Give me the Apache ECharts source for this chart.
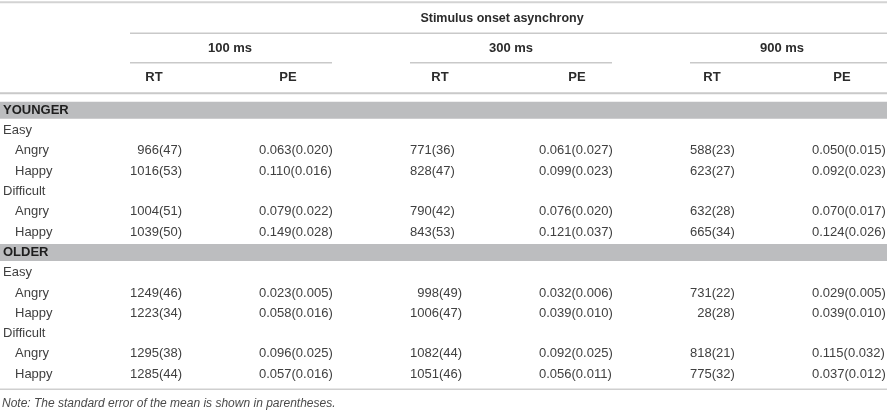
<!DOCTYPE html>
<html>
<head>
<meta charset="utf-8">
<script src="https://cdn.jsdelivr.net/npm/echarts@6/dist/echarts.min.js"></script>
<style>
    html, body { margin: 0; padding: 0; background: #fff; }
    #chart { width: 887px; height: 413px; }
</style>
</head>
<body>
<div id="chart"></div>
<script>
const soaTitle = 'Stimulus onset asynchrony';
const soaLevels = ['100 ms', '300 ms', '900 ms'];
const measures = ['RT', 'PE'];
const ageGroups = ['YOUNGER', 'OLDER'];
const difficulties = ['Easy', 'Difficult'];
const emotions = ['Angry', 'Happy'];

// rows: younger easy angry/happy, younger difficult angry/happy, older easy ..., older difficult ...
// columns: 100 ms, 300 ms, 900 ms
const rtMean = [
    [966, 771, 588],
    [1016, 828, 623],
    [1004, 790, 632],
    [1039, 843, 665],
    [1249, 998, 731],
    [1223, 1006, 28],
    [1295, 1082, 818],
    [1285, 1051, 775]
];
const rtSE = [
    [47, 36, 23],
    [53, 47, 27],
    [51, 42, 28],
    [50, 53, 34],
    [46, 49, 22],
    [34, 47, 28],
    [38, 44, 21],
    [44, 46, 32]
];
const peMean = [
    [0.063, 0.061, 0.050],
    [0.110, 0.099, 0.092],
    [0.079, 0.076, 0.070],
    [0.149, 0.121, 0.124],
    [0.023, 0.032, 0.029],
    [0.058, 0.039, 0.039],
    [0.096, 0.092, 0.115],
    [0.057, 0.056, 0.037]
];
const peSE = [
    [0.020, 0.027, 0.015],
    [0.016, 0.023, 0.023],
    [0.022, 0.020, 0.017],
    [0.028, 0.037, 0.026],
    [0.005, 0.006, 0.005],
    [0.016, 0.010, 0.010],
    [0.025, 0.025, 0.032],
    [0.016, 0.011, 0.012]
];
const note = 'Note: The standard error of the mean is shown in parentheses.';

// layout
const W = 887;
const cellLeft = [130, 259, 410, 539, 690, 812];
const headCenter = [154, 288, 440, 577, 712, 842];
const soaCenter = [230, 511, 782];
const soaRule = [[130, 332], [410, 612], [690, 887]];
const titleCenter = 502;
const font = '"Liberation Sans", Arial, sans-serif';
const bodySize = 13;
const digitW = bodySize * 0.556;
const ruleColor = '#c9c9c9';
const textColor = '#404040';
const headColor = '#2b2b2b';

// body rows
let bodyRows = [];
let n = 0;
ageGroups.forEach(g => {
    bodyRows.push({ kind: 'group', label: g });
    difficulties.forEach(d => {
        bodyRows.push({ kind: 'cond', label: d });
        emotions.forEach(e => {
            bodyRows.push({ kind: 'cell', label: e, idx: n++ });
        });
    });
});

let digits = v => String(v).length;
// RT values are aligned on the widest number inside an age group
let rtPad = (idx, c) => {
    let g = Math.floor(idx / 4);
    let max = 0;
    for (let i = g * 4; i < g * 4 + 4; i++) max = Math.max(max, digits(rtMean[i][c]));
    return max - digits(rtMean[idx][c]);
};

let txt = (x, y, text, opt) => ({
    type: 'text', x, y, silent: true,
    style: Object.assign({
        text, fill: textColor, fontFamily: font, fontSize: bodySize,
        align: 'left', verticalAlign: 'middle'
    }, opt || {})
});
let rule = (x1, x2, y, w, c) => ({
    type: 'line', silent: true,
    shape: { x1, y1: y, x2, y2: y },
    style: { stroke: c || ruleColor, lineWidth: w || 1.5 }
});

let renderHead = (params, api) => {
    let row = api.value(1);
    let y = api.coord([0, row])[1];
    let h = api.size([0, 1])[1];
    let bold = { fontWeight: 'bold', fill: headColor, align: 'center', fontSize: 13 };
    let children = [];
    if (row === 0) {
        children.push(rule(0, W, y - h / 2 - 1.5, 2, '#d3d3d3'));
        children.push(txt(titleCenter, y, soaTitle, Object.assign({}, bold, { fontSize: 12.5 })));
        children.push(rule(soaRule[0][0], W, y + h / 2));
    } else if (row === 1) {
        soaLevels.forEach((s, i) => {
            children.push(txt(soaCenter[i], y, s, bold));
            children.push(rule(soaRule[i][0], soaRule[i][1], y + h / 2));
        });
    } else {
        soaLevels.forEach((s, i) => {
            measures.forEach((m, j) => {
                children.push(txt(headCenter[i * 2 + j], y, m, bold));
            });
        });
        children.push(rule(0, W, y + h / 2 + 1, 2));
    }
    return { type: 'group', children };
};

let renderBody = (params, api) => {
    let row = api.value(1);
    let r = bodyRows[row];
    let y = api.coord([0, row])[1];
    let h = api.size([0, 1])[1];
    let children = [];
    if (r.kind === 'group') {
        children.push({
            type: 'rect', silent: true,
            shape: { x: 0, y: y - 8.5, width: W, height: 17 },
            style: { fill: '#bcbdbf' }
        });
        children.push(txt(3, y, r.label, { fontWeight: 'bold', fill: '#1e1e1e' }));
    } else if (r.kind === 'cond') {
        children.push(txt(3, y, r.label));
    } else {
        children.push(txt(15, y, r.label));
        soaLevels.forEach((s, c) => {
            let i = r.idx;
            let rt = rtMean[i][c] + '(' + rtSE[i][c] + ')';
            let pe = peMean[i][c].toFixed(3) + '(' + peSE[i][c].toFixed(3) + ')';
            children.push(txt(cellLeft[c * 2] + rtPad(i, c) * digitW, y, rt));
            children.push(txt(cellLeft[c * 2 + 1], y, pe));
        });
    }
    if (row === bodyRows.length - 1) {
        children.push(rule(0, W, y + h / 2 + 5, 1.5, '#cfcfcf'));
    }
    return { type: 'group', children };
};

var dom = document.getElementById('chart');
var chart = echarts.init(dom, null, { renderer: 'canvas' });

var option = {
    animation: false,
    title: {
        text: note,
        left: 2,
        top: 398,
        padding: 0,
        textStyle: {
            fontFamily: font,
            fontSize: 12,
            fontStyle: 'italic',
            fontWeight: 'normal',
            color: '#4a4a4a'
        }
    },
    grid: [
        { left: 0, right: 0, top: 3.75, height: 88.5 },
        { left: 0, right: 0, top: 100.15, height: 284.2 }
    ],
    xAxis: [
        { type: 'value', min: 0, max: W, show: false, gridIndex: 0 },
        { type: 'value', min: 0, max: W, show: false, gridIndex: 1 }
    ],
    yAxis: [
        { type: 'category', data: ['soa', 'level', 'measure'], inverse: true, show: false, gridIndex: 0 },
        { type: 'category', data: bodyRows.map((r, i) => r.label + i), inverse: true, show: false, gridIndex: 1 }
    ],
    series: [
        {
            type: 'custom',
            xAxisIndex: 0,
            yAxisIndex: 0,
            clip: false,
            silent: true,
            renderItem: renderHead,
            data: [[0, 0], [0, 1], [0, 2]]
        },
        {
            type: 'custom',
            xAxisIndex: 1,
            yAxisIndex: 1,
            clip: false,
            silent: true,
            renderItem: renderBody,
            data: bodyRows.map((r, i) => [0, i])
        }
    ]
};

chart.setOption(option);
window.addEventListener('resize', chart.resize);
</script>
</body>
</html>
